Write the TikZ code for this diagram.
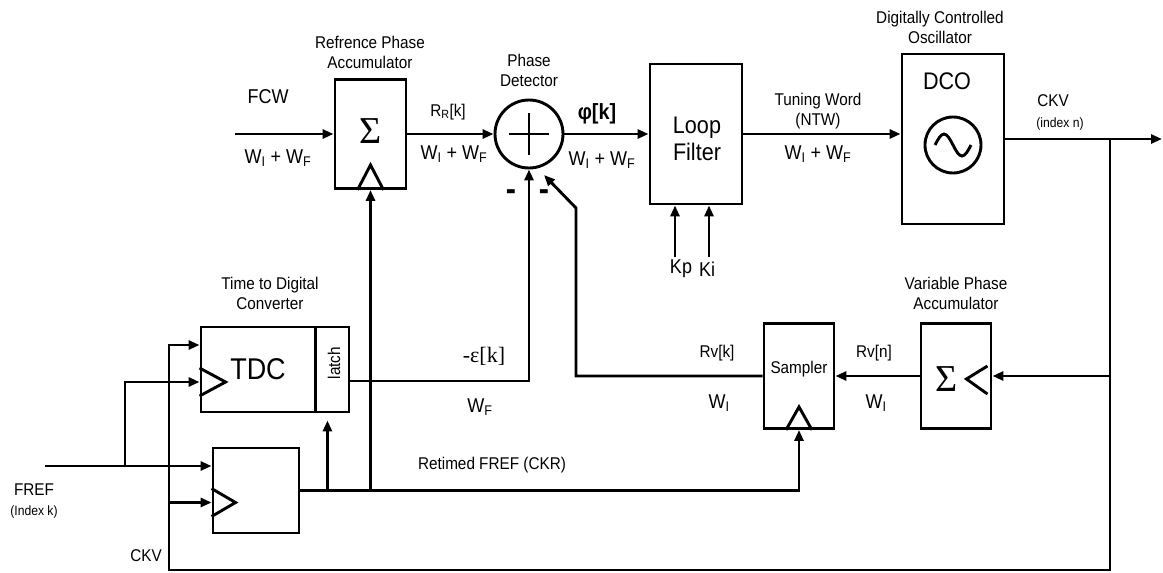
\documentclass[tikz,border=0pt]{standalone}
\usepackage{fontspec}
\setmainfont{Liberation Sans}[FakeStretch=0.9]
\newfontfamily\serifgr{Liberation Serif}
\usetikzlibrary{arrows.meta,calc}

\begin{document}
\begin{tikzpicture}[x=1pt, y=-1pt, line width=2.9pt,
        blk/.style={draw, rectangle, inner sep=0pt},
        lbl/.style={inner sep=0pt, align=center, font=\fontsize{17}{20}\selectfont},
        tinylbl/.style={inner sep=0pt, font=\fontsize{13.5}{15}\selectfont},
        wlbl/.style={inner sep=0pt, font=\fontsize{20}{24}\selectfont},
        biglbl/.style={inner sep=0pt, align=center, font=\fontsize{24}{27}\selectfont},
        sumlbl/.style={inner sep=0pt, font=\serifgr\fontsize{38}{38}\selectfont},
        minuslbl/.style={inner sep=0pt, font=\fontsize{34}{34}\selectfont\bfseries},
        sig/.style={-{Triangle[length=11pt,width=9pt]}}]
        \useasboundingbox (0,0) rectangle (1163,573);
        \node[blk, minimum width=71, minimum height=109] (acc) at (370.5,134) {};
        \node[draw, circle, minimum size=68, inner sep=0pt] (pd) at (529,134) {};
        \node[blk, minimum width=92, minimum height=140] (lf) at (696,134) {};
        \node[blk, minimum width=102, minimum height=170] (dco) at (953,139) {};
        \node[blk, minimum width=148, minimum height=85] (tdc) at (275,369.5) {};
        \node[blk, minimum width=86, minimum height=85] (ff) at (256,490.5) {};
        \node[blk, minimum width=70, minimum height=105] (smp) at (799,376) {};
        \node[blk, minimum width=70, minimum height=105] (vpa) at (956,376) {};
        \node[draw, circle, minimum size=56, inner sep=0pt] (osc) at (953,145) {};
        \coordinate (fcw) at (235,134);
        \coordinate (kp) at (675,257);
        \coordinate (ki) at (709,257);
        \coordinate (ckvbr) at (1110,139);
        \coordinate (ckvout) at (1162,139);
        \coordinate (botR) at (1110,570);
        \coordinate (botL) at (169,570);
        \coordinate (fref) at (45,466);
        \coordinate (frefbr) at (125,466);
        \coordinate (tdcin) at ($(tdc.west)+(0,-24.5)$);
        \coordinate (tdcclk) at ($(tdc.west)+(0,12.5)$);
        \coordinate (tdcout) at ($(tdc.east)+(0,11.5)$);
        \coordinate (ffd) at ($(ff.west)+(0,-24.5)$);
        \coordinate (ffclk) at ($(ff.west)+(0,12)$);
        \coordinate (ltch) at ($(tdc.south east)+(-23,0)$);
        \coordinate (kink) at (576,208);
        \coordinate (pdin) at ($(pd.center)+(15,41)$);
        \node[sumlbl] (accsum) at ($(acc)+(0,-3)$) {Σ};
        \draw ($(acc.south)+(-13,0)$) -- ++(13,-25) -- ++(13,25);
        \draw ($(pd.center)+(-20,0)$) -- ($(pd.center)+(20,0)$);
        \draw ($(pd.center)+(0,-21)$) -- ($(pd.center)+(0,21)$);
        \draw ($(osc)+(-18,0)$) sin ++(9,-11) cos ++(9,11) sin ++(9,11) cos ++(9,-11);
        \draw ($(tdc.north east)+(-35,0)$) -- ($(tdc.south east)+(-35,0)$);
        \draw ($(tdcclk)+(0,-14)$) -- ++(26,14) -- ++(-26,14);
        \draw ($(ffclk)+(0,-14)$) -- ++(24,14) -- ++(-24,14);
        \draw ($(smp.south)+(-13,0)$) -- ++(13,-23) -- ++(13,23);
        \node[sumlbl] (vpasum) at ($(vpa.center)+(-9,3)$) {Σ};
        \draw ($(vpa.east)+(-5,-10)$) -- ++(-21,13) -- ++(21,15);
        \draw[sig] (fcw) -- (acc.west);
        \draw[sig] (acc.east) -- (pd.west);
        \draw[sig] (pd.east) -- (lf.west);
        \draw[sig] (lf.east) -- (dco.west |- lf.east);
        \draw[sig] (dco.east) -- (ckvout);
        \draw[sig] (kp) -- (kp |- lf.south);
        \draw[sig] (ki) -- (ki |- lf.south);
        \draw[sig] (ckvbr) -- (botR) -- (botL) |- (tdcin);
        \draw[sig] (botL |- ffclk) -- (ffclk);
        \draw[sig] (ckvbr |- vpa.east) -- (vpa.east);
        \draw[sig] (vpa.west) -- (smp.east);
        \draw[sig] (smp.west) -| (kink) -- (pdin);
        \draw[sig] (tdcout) -| (pd.south);
        \draw[sig] (fref) -- (ffd);
        \draw[sig] (frefbr) |- (tdcclk);
        \draw[sig] (ff.east) -| (smp.south);
        \draw[sig] (ff.east -| acc.south) -- (acc.south);
        \draw[sig, shorten >=7pt] (ff.east -| ltch) -- (ltch);
        \node[lbl] (acctxt) at (370,52) {Refrence Phase\\Accumulator};
        \node[wlbl] (fcwtxt) at (268,97) {FCW};
        \node[wlbl] (fcww) at (278,158) {W\textsubscript{I} + W\textsubscript{F}};
        \node[lbl] (rrtxt) at (448,112) {R\textsubscript{R}[k]};
        \node[wlbl] (rrw) at (454,154) {W\textsubscript{I} + W\textsubscript{F}};
        \node[lbl] (pdtxt) at (529,70) {Phase\\Detector};
        \node[wlbl, font=\fontsize{22}{24}\selectfont\bfseries] (phitxt) at (597,114) {φ[k]};
        \node[wlbl] (phiw) at (602,160) {W\textsubscript{I} + W\textsubscript{F}};
        \node[minuslbl] (minusa) at (511,195) {-};
        \node[minuslbl] (minusb) at (544,195) {-};
        \node[biglbl] (lftxt) at (697,139) {Loop\\Filter};
        \node[wlbl] (kptxt) at (681,269) {Kp};
        \node[wlbl] (kitxt) at (707,269) {Ki};
        \node[lbl] (ntwtxt) at (818,111) {Tuning Word\\(NTW)};
        \node[wlbl] (ntww) at (818,154) {W\textsubscript{I} + W\textsubscript{F}};
        \node[lbl] (dcotop) at (940,27) {Digitally Controlled\\Oscillator};
        \node[biglbl] (dcotxt) at (947,81) {DCO};
        \node[lbl] (ckvtxt) at (1053,101) {CKV};
        \node[tinylbl] (idxn) at (1060,124) {(index n)};
        \node[lbl] (tdctop) at (270,293) {Time to Digital\\Converter};
        \node[biglbl, font=\fontsize{30}{30}\selectfont] (tdctxt) at (258,369) {TDC};
        \node[lbl, rotate=90] (latchtxt) at (334,363) {latch};
        \node[wlbl, font=\serifgr\fontsize{22}{24}\selectfont] (epstxt) at (484,356) {-ε[k]};
        \node[wlbl] (epsw) at (480,407) {W\textsubscript{F}};
        \node[lbl] (ckrtxt) at (492,465) {Retimed FREF (CKR)};
        \node[lbl] (freftxt) at (34,490) {FREF};
        \node[tinylbl] (idxk) at (34,512) {(Index k)};
        \node[lbl] (ckvbot) at (146,556) {CKV};
        \node[lbl] (rvktxt) at (717,353) {Rv[k]};
        \node[wlbl] (rvkw) at (719,403) {W\textsubscript{I}};
        \node[lbl] (smptxt) at (799,369) {Sampler};
        \node[lbl] (rvntxt) at (874,353) {Rv[n]};
        \node[wlbl] (rvnw) at (876,403) {W\textsubscript{I}};
        \node[lbl] (vpatxt) at (956,293) {Variable Phase\\Accumulator};
    \end{tikzpicture}
\end{document}
